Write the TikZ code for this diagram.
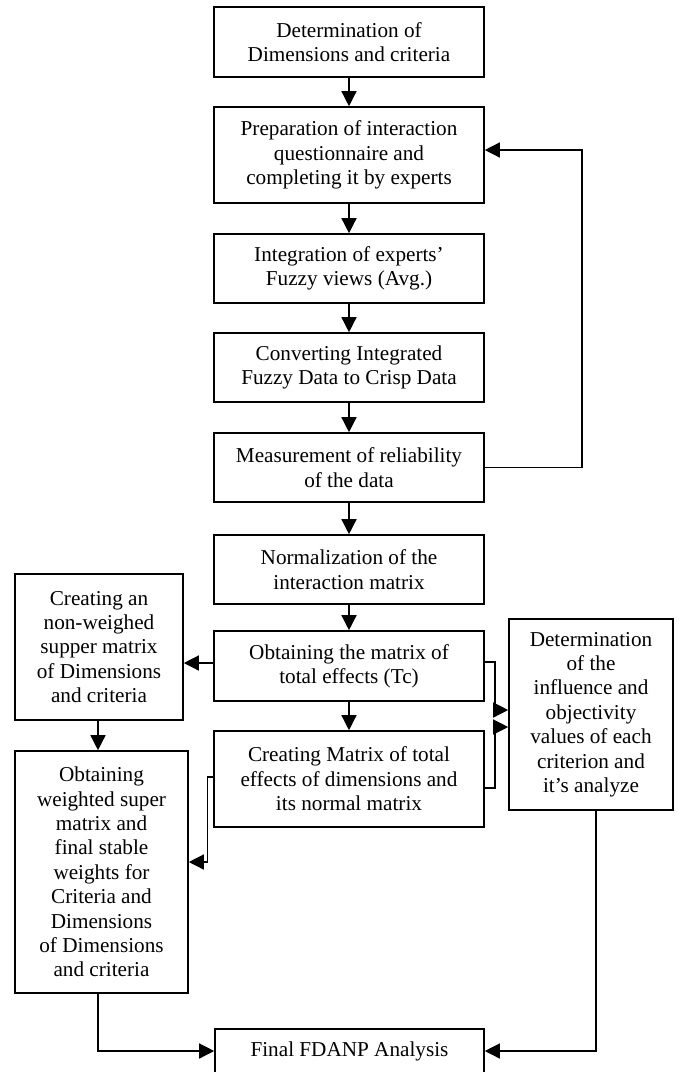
\documentclass[tikz,border=0pt]{standalone}
\usepackage{fontspec}
\setmainfont{Liberation Serif}
\usetikzlibrary{shapes,arrows.meta,positioning}

\tikzset{
  box/.style={draw, line width=1.6pt, align=center, inner sep=2pt,
    font=\fontsize{21.2}{24.4}\selectfont},
  flow/.style={line width=1.4pt, -{Triangle[length=15pt,width=15pt]}}
}

\begin{document}
\begin{tikzpicture}[x=1pt,y=-1pt]
    \useasboundingbox (0,0) rectangle (681,1072);

    % Main column
    \node[box, minimum width=270pt, minimum height=70pt] (dims) at (349,42) {Determination of\\Dimensions and criteria};
    \node[box, minimum width=270pt, minimum height=96pt] (quest) at (349,155) {Preparation of interaction\\questionnaire and\\completing it by experts};
    \node[box, minimum width=270pt, minimum height=69pt] (integ) at (349,268.5) {Integration of experts’\\Fuzzy views (Avg.)};
    \node[box, minimum width=270pt, minimum height=69pt] (crisp) at (349,367.5) {Converting Integrated\\Fuzzy Data to Crisp Data};
    \node[box, minimum width=270pt, minimum height=69pt] (relia) at (349,467.5) {Measurement of reliability\\of the data};
    \node[box, minimum width=270pt, minimum height=69pt] (norm) at (349,569.5) {Normalization of the\\interaction matrix};
    \node[box, minimum width=270pt, minimum height=70pt] (total) at (349,666) {Obtaining the matrix of\\total effects (Tc)};
    \node[box, minimum width=270pt, minimum height=96pt] (dimmat) at (349,779) {Creating Matrix of total\\effects of dimensions and\\its normal matrix};
    \node[box, minimum width=269pt, minimum height=44pt] (final) at (349.5,1051) {Final FDANP Analysis};

    % Side boxes
    \node[box, minimum width=168pt, minimum height=146pt] (unw) at (99,647) {Creating an\\non-weighed\\supper matrix\\of Dimensions\\and criteria};
    \node[box, minimum width=173pt, minimum height=242pt] (wsm) at (101.5,872) {Obtaining\\weighted super\\matrix and\\final stable\\weights for\\Criteria and\\Dimensions\\of Dimensions\\and criteria};
    \node[box, minimum width=164pt, minimum height=191pt] (infl) at (591,714.5) {Determination\\of the\\influence and\\objectivity\\values of each\\criterion and\\it’s analyze};

    % Vertical flow
    \draw[flow] (dims) -- (quest);
    \draw[flow] (quest) -- (integ);
    \draw[flow] (integ) -- (crisp);
    \draw[flow] (crisp) -- (relia);
    \draw[flow] (relia) -- (norm);
    \draw[flow] (norm) -- (total);
    \draw[flow] (total) -- (dimmat);

    % Feedback loop
    \coordinate (back) at (582,150);
    \draw[flow] (relia.east) -| (back) -- (back -| quest.east);

    % Left branch
    \draw[flow] ([yshift=3pt]total.west) -- ([yshift=3pt]total.west -| unw.east);
    \draw[flow] ([xshift=-1pt]unw.south) -- ([xshift=-1pt]unw.south |- wsm.north);
    \draw[flow] ([yshift=2pt]dimmat.west) -- +(-6,0) |- (wsm.east |- 0,862);
    \draw[flow] ([xshift=-3.5pt]wsm.south) |- (final.west);

    % Right branch
    \draw[flow] ([yshift=4pt]total.east) -- +(10,0) |- (infl.west |- 0,710);
    \draw[flow] ([yshift=-9pt]dimmat.east) -- +(10,0) |- (infl.west |- 0,727);
    \draw[flow] ([xshift=5pt]infl.south) |- (final.east);
\end{tikzpicture}
\end{document}
